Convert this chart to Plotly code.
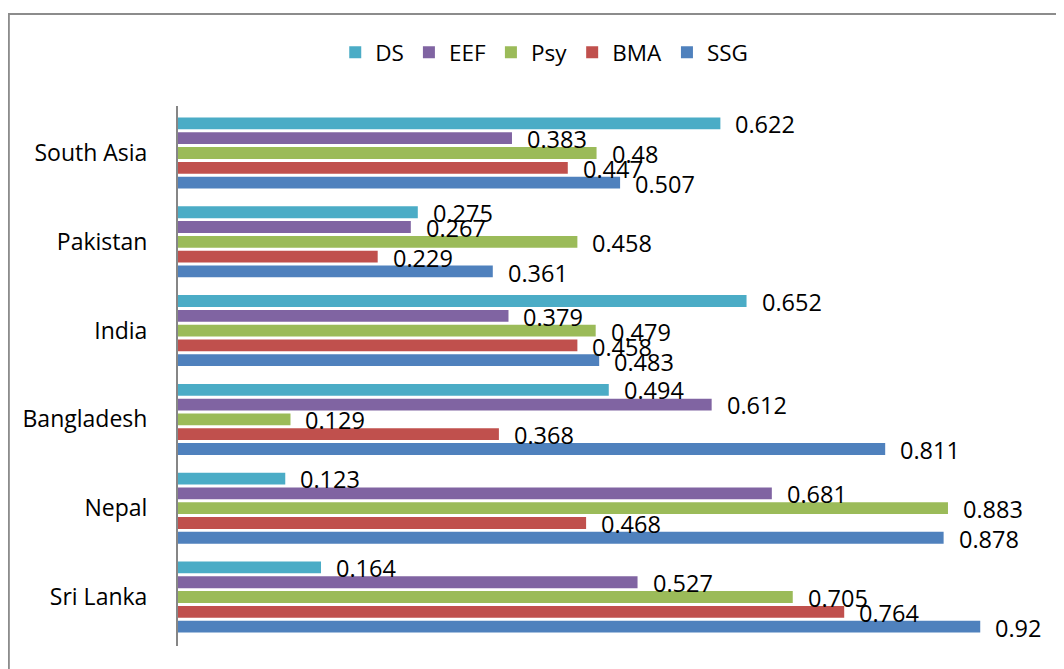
import plotly.graph_objects as go

# categories bottom -> top (plotly order)
regions = ["Sri Lanka", "Nepal", "Bangladesh", "India", "Pakistan", "South Asia"]

ssg = [0.92, 0.878, 0.811, 0.483, 0.361, 0.507]
bma = [0.764, 0.468, 0.368, 0.458, 0.229, 0.447]
psy = [0.705, 0.883, 0.129, 0.479, 0.458, 0.48]
eef = [0.527, 0.681, 0.612, 0.379, 0.267, 0.383]
ds = [0.164, 0.123, 0.494, 0.652, 0.275, 0.622]

# drawn bottom bar first within each group
series = [
    ("SSG", ssg, "#4F81BD"),
    ("BMA", bma, "#C0504D"),
    ("Psy", psy, "#9BBB59"),
    ("EEF", eef, "#8064A2"),
    ("DS", ds, "#4BACC6"),
]

FONT = "Open Sans, Calibri, sans-serif"
pitch = 15  # px between neighbouring bars inside a group

fig = go.Figure()
annotations = []
for i, (name, vals, col) in enumerate(series):
    fig.add_trace(go.Bar(y=regions, x=vals, name=name, orientation="h",
                         marker=dict(color=col, line=dict(width=0))))
    for reg, v in zip(regions, vals):
        annotations.append(dict(x=v, y=reg, xref="x", yref="y", text=str(v),
                                showarrow=False, xanchor="left", xshift=13,
                                yshift=(i - 2) * pitch - 1,
                                font=dict(family=FONT, size=23.5, color="#000")))

# page body adds 8px offset; paper spans y=0..638 of the figure
fig.update_layout(
    width=1064, height=669,
    margin=dict(l=170, r=22, t=0, b=31),
    paper_bgcolor="white", plot_bgcolor="white",
    barmode="group", bargap=0.167, bargroupgap=0.2,
    font=dict(family=FONT, size=23, color="#000"),
    showlegend=True,
    legend=dict(orientation="h", traceorder="reversed", x=0.42, xanchor="center",
                y=0.93, yanchor="middle", font=dict(size=22.5),
                bgcolor="rgba(0,0,0,0)", itemwidth=30),
    xaxis=dict(range=[0, 1], visible=False),
    yaxis=dict(domain=[0, 0.8464], showline=True, linecolor="#868686", linewidth=2,
               ticks="", showgrid=False, ticklabelstandoff=24, zeroline=False),
    annotations=annotations,
    shapes=[dict(type="rect", xref="paper", yref="paper",
                 x0=-0.194, x1=1.05, y0=-0.2, y1=0.9906,
                 line=dict(color="#8c8c8c", width=2), layer="below")],
)

fig.write_html("out.html")
